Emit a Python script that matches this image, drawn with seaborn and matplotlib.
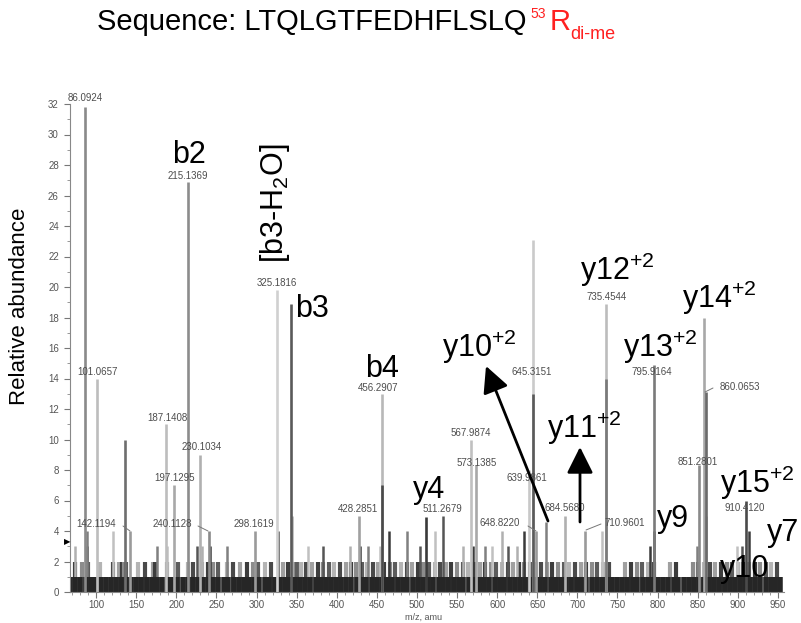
import matplotlib
matplotlib.use("Agg")
import matplotlib.pyplot as plt
from matplotlib.ticker import MultipleLocator
import seaborn as sns

# ---------------- data ----------------
title_seq = "Sequence: LTQLGTFEDHFLSLQ"
mod_site = "53"
mod_residue = "R"
mod_name = "di-me"

# labelled / major peaks
peak_mz = [86.09, 101.07, 136.0, 142.12, 187.14, 197.13, 215.14, 230.10, 240.11, 298.16,
           325.18, 343.20, 428.29, 456.29, 457.0, 511.27, 567.99, 573.14, 639.99, 644.2,
           645.32, 648.82, 684.57, 709.5, 735.45, 736.2, 795.92, 851.28, 858.4, 860.07, 910.41]
peak_int = [31.8, 14.0, 10.0, 4.0, 11.0, 7.0, 26.9, 9.0, 4.0, 4.0,
            19.8, 18.9, 5.0, 13.0, 7.0, 4.9, 10.0, 8.3, 8.0, 23.1,
            13.0, 4.0, 5.0, 4.0, 18.9, 14.0, 14.9, 8.3, 18.0, 13.1, 6.0]

# smaller unlabelled peaks
minor_mz = [88.6, 121.0, 326.7, 344.2, 465.2, 487.6, 522.5, 532.5, 606.0, 633.5,
            660.9, 730.7, 795.6, 860.4, 914.0]
minor_int = [4, 4, 4, 5, 4, 4, 4, 5, 4, 4, 4.6, 4, 4, 5, 4]

# noise peaks at abundance 3
noise3_mz = [73.6, 88.6, 175.9, 188.3, 225.7, 232.0, 241.9, 263.2, 364.1, 382.8,
             416.5, 429.0, 438.9, 453.9, 503.8, 557.4, 569.9, 584.8, 593.6, 613.5,
             624.8, 790.6, 849.2, 899.1, 905.3]

# noise peaks at abundance 2
noise2_mz = [73.6, 82.4, 89.8, 104.8, 121.0, 128.5, 132.2, 134.7, 137.2, 152.2,
             160.9, 170.9, 173.4, 188.3, 202.0, 214.5, 220.8, 232.0, 239.5, 245.7,
             251.9, 263.2, 270.6, 279.4, 288.1, 295.6, 301.8, 310.5, 318.0, 333.0,
             339.2, 345.4, 350.4, 356, 362, 369, 376, 383, 390, 397, 404, 411, 418,
             424, 431, 438, 445, 452, 459, 466, 473, 480, 487, 494, 501, 508, 515,
             522, 529, 536, 543, 550, 557, 564, 571, 578, 585, 592, 599, 606, 613,
             620, 627, 634, 641, 648, 655, 662, 669, 676, 683, 690, 697, 704, 711,
             718, 725, 732, 739, 760, 767, 774, 781, 788, 795, 816, 823, 844, 851,
             858, 865, 872, 879, 886, 893, 900, 907, 914, 921, 928, 935, 942, 949]

# noise floor at abundance 1
noise1_mz = [68, 74, 80, 87, 93, 99, 106, 112, 118, 125, 131, 137, 144, 150, 156, 163,
             170, 176, 182, 189, 195, 201, 208, 214, 221, 227, 233, 240, 246, 252, 259,
             265, 272, 278, 284, 291, 297, 303, 310, 316, 323, 329, 335, 342, 348, 354,
             361, 367, 374, 380, 386, 393, 399, 405, 412, 418, 425, 431, 437, 444, 450,
             456, 463, 469, 476, 482, 488, 495, 501, 507, 514, 520, 527, 533, 539, 546,
             552, 558, 565, 571, 578, 584, 590, 597, 603, 609, 616, 622, 629, 635, 641,
             648, 654, 660, 667, 673, 680, 686, 692, 699, 705, 711, 718, 724, 731, 737,
             743, 750, 756, 762, 769, 775, 782, 788, 794, 801, 807, 813, 820, 826, 833,
             839, 845, 852, 858, 864, 871, 877, 884, 890, 896, 903, 909, 915, 922, 928,
             935, 941, 947, 953]

peak_label_text = ["86.0924", "101.0657", "215.1369", "325.1816", "187.1408", "230.1034",
                   "197.1295", "142.1194", "240.1128", "298.1619", "456.2907", "428.2851",
                   "511.2679", "567.9874", "573.1385", "639.9861", "645.3151", "648.8220",
                   "684.5680", "710.9601", "735.4544", "795.9164", "860.0653", "851.2801",
                   "910.4120"]

ion_labels = ["b2", "b3", "b4", "y4", "y10$^{\\mathregular{+2}}$", "y11$^{\\mathregular{+2}}$",
              "y12$^{\\mathregular{+2}}$", "y13$^{\\mathregular{+2}}$", "y14$^{\\mathregular{+2}}$",
              "y15$^{\\mathregular{+2}}$", "y9", "y7", "y10"]
water_loss_label = "[b3-H$_{\\mathregular{2}}$O]"

x_ticks = [100, 150, 200, 250, 300, 350, 400, 450, 500, 550, 600, 650, 700, 750, 800, 850, 900, 950]
y_ticks = [0, 2, 4, 6, 8, 10, 12, 14, 16, 18, 20, 22, 24, 26, 28, 30, 32]

# ---------------- styling ----------------
sns.set_theme(style="white")
plt.rcParams["font.family"] = ["Liberation Sans", "DejaVu Sans"]
plt.rcParams["mathtext.fontset"] = "custom"
plt.rcParams["mathtext.rm"] = "Liberation Sans"
plt.rcParams["mathtext.it"] = "Liberation Sans:italic"
plt.rcParams["mathtext.bf"] = "Liberation Sans:bold"

peak_shade = ["#8a8a8a", "#bdbdbd", "#6e6e6e", "#9a9a9a", "#bdbdbd", "#a8a8a8", "#8c8c8c",
              "#b0b0b0", "#8a8a8a", "#9a9a9a", "#d0d0d0", "#5a5a5a", "#a0a0a0", "#b8b8b8",
              "#4a4a4a", "#3a3a3a", "#c0c0c0", "#a8a8a8", "#c8c8c8", "#cacaca", "#5a5a5a",
              "#9a9a9a", "#b0b0b0", "#9a9a9a", "#bcbcbc", "#7a7a7a", "#7a7a7a", "#8a8a8a",
              "#a8a8a8", "#6a6a6a", "#4a4a4a"]
cycle2 = ["#3c3c3c", "#8c8c8c", "#5c5c5c", "#b4b4b4", "#4a4a4a", "#a0a0a0"]
cycle3 = ["#b0b0b0", "#3a3a3a", "#808080", "#c0c0c0", "#555555"]

W, H = 801, 623
fig = plt.figure(figsize=(W / 100, H / 100), dpi=100)
ax = fig.add_axes([70 / W, 31 / H, 714 / W, 488 / H])


def dx(px):
    return 86.09 + (px - 85) * 1.2469


def dy(py):
    return (592 - py) / 15.25


# noise
ax.vlines(noise2_mz, 0, 2, colors=[cycle2[i % len(cycle2)] for i in range(len(noise2_mz))],
          linewidth=3.0)
ax.vlines(noise3_mz, 0, 3, colors=[cycle3[i % len(cycle3)] for i in range(len(noise3_mz))],
          linewidth=1.8)
ax.vlines(minor_mz, 0, minor_int, colors=[cycle3[(i + 2) % len(cycle3)] for i in range(len(minor_mz))],
          linewidth=1.8)
ax.vlines(noise1_mz, 0, 1, colors="#262626", linewidth=4.0)

# major peaks: tallest first so shorter overlapping ones sit on top
order = sorted(range(len(peak_mz)), key=lambda i: -peak_int[i])
ax.vlines([peak_mz[i] for i in order], 0, [peak_int[i] for i in order],
          colors=[peak_shade[i] for i in order], linewidth=1.9)

ax.set_xlim(dx(70), dx(784))
ax.set_ylim(0, 32)
ax.set_xticks(x_ticks)
ax.set_yticks(y_ticks)
ax.xaxis.set_minor_locator(MultipleLocator(10))
ax.yaxis.set_minor_locator(MultipleLocator(1))
ax.tick_params(axis="both", which="major", direction="out", length=4, width=0.8,
               color="#777777", labelsize=7, labelcolor="#555555", bottom=True, left=True)
ax.tick_params(axis="x", which="major", pad=2)
ax.tick_params(axis="y", which="major", pad=4)
ax.tick_params(axis="both", which="minor", direction="out", length=2, width=0.6,
               color="#888888", bottom=True, left=True)
sns.despine(ax=ax)
for s in ["left", "bottom"]:
    ax.spines[s].set_color("#888888")
    ax.spines[s].set_linewidth(0.8)
ax.grid(False)

# peak value labels
label_px = [(85, 98), (98, 372), (188, 176), (277, 283), (167, 418), (202, 447), (175, 478),
            (96, 524), (172, 524), (254, 524), (378, 388), (358, 509), (442, 509), (471, 433),
            (477, 463), (527, 478), (532, 372), (500, 523), (565, 508), (625, 523), (607, 297),
            (652, 372), (740, 387), (698, 462), (745, 508)]
for txt, (px, py) in zip(peak_label_text, label_px):
    ax.text(dx(px), dy(py), txt, fontsize=7, color="#4d4d4d", ha="center", va="center",
            clip_on=False)

leaders = [((123, 526), (130, 531)), ((198, 526), (208, 531)), ((528, 526), (536, 531)),
           ((601, 524), (586, 530)), ((713, 388), (705, 392))]
for (x0, y0), (x1, y1) in leaders:
    ax.plot([dx(x0), dx(x1)], [dy(y0), dy(y1)], color="#777777", lw=0.7)

# ion annotations
ion_pos = [(172, 163), (295, 317), (365, 377), (413, 498), (442, 357), (547, 438), (580, 280),
           (623, 357), (682, 308), (720, 493), (657, 527), (767, 541), (720, 577)]
for txt, (px, py) in zip(ion_labels, ion_pos):
    ax.text(dx(px), dy(py), txt, fontsize=22, color="black", ha="left", va="baseline",
            clip_on=False)
ax.text(dx(275), dy(203), water_loss_label, fontsize=22, color="black", rotation=90,
        ha="center", va="center")

# arrows
arrow_kw = dict(arrowstyle="-|>,head_length=0.8,head_width=0.4", lw=2, color="black",
                mutation_scale=20, shrinkA=0, shrinkB=0)
ax.annotate("", xy=(dx(486), dy(366)), xytext=(dx(548), dy(521)), arrowprops=arrow_kw)
ax.annotate("", xy=(dx(580), dy(447)), xytext=(dx(580), dy(522)), arrowprops=arrow_kw)

# threshold marker
ax.text(dx(67), dy(542), "\u25B6", fontsize=6, color="black", ha="center", va="center",
        family="DejaVu Sans", clip_on=False)

# axis labels
fig.text(20 / W, 1 - 306 / H, "Relative abundance", rotation=90, fontsize=16,
         ha="center", va="center", color="black")
fig.text(424 / W, 1 - 617 / H, "m/z, amu", fontsize=6.5, ha="center", va="center",
         color="#555555")

# title with red modified residue
t1 = fig.text(97 / W, 1 - 30 / H, title_seq, fontsize=21, ha="left", va="baseline",
              color="black")
fig.canvas.draw()
r = fig.canvas.get_renderer()
x_end = t1.get_window_extent(r).x1
t2 = fig.text((x_end + 4) / W, 1 - 18 / H, mod_site, fontsize=10, ha="left", va="baseline",
              color="#ff2020")
x_end = t2.get_window_extent(r).x1
t3 = fig.text((x_end + 4) / W, 1 - 30 / H, mod_residue, fontsize=21, ha="left",
              va="baseline", color="#ff2020")
x_end = t3.get_window_extent(r).x1
fig.text((x_end - 1) / W, 1 - 39 / H, mod_name, fontsize=13, ha="left", va="baseline",
         color="#ff2020")

fig.savefig("out.png", dpi=100)
